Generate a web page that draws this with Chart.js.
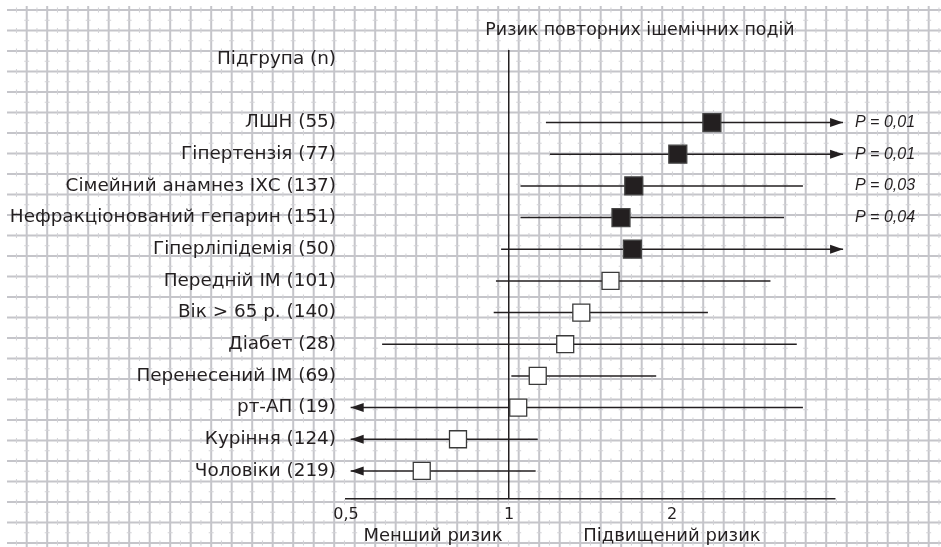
<!DOCTYPE html>
<html>
<head>
<meta charset="utf-8">
<script src="https://cdn.jsdelivr.net/npm/chart.js@4/dist/chart.umd.min.js"></script>
<style>
  html, body { margin: 0; padding: 0; background: #fff; }
  #wrap { width: 941px; height: 547px; }
</style>
</head>
<body>
<div id="wrap"><canvas id="forest" width="941" height="547"></canvas></div>
<script>
// subgroups, top to bottom
const subgroups = [
  'ЛШН (55)', 'Гіпертензія (77)', 'Сімейний анамнез ІХС (137)',
  'Нефракціонований гепарин (151)', 'Гіперліпідемія (50)', 'Передній ІМ (101)',
  'Вік > 65 р. (140)', 'Діабет (28)', 'Перенесений ІМ (69)', 'рт-АП (19)',
  'Куріння (124)', 'Чоловіки (219)'
];
const riskRatio = [2.37, 2.05, 1.70, 1.61, 1.69, 1.54, 1.36, 1.27, 1.13, 1.04, 0.805, 0.69];
const lowerCI   = [1.17, 1.19, 1.05, 1.05, 0.967, 0.946, 0.937, 0.583, 1.01, 0.51, 0.51, 0.51];
const upperCI   = [4.14, 4.14, 3.49, 3.22, 4.14, 3.04, 2.33, 3.40, 1.87, 3.49, 1.13, 1.12];
const significant = [true, true, true, true, true, false, false, false, false, false, false, false];
const arrowLeft  = [false, false, false, false, false, false, false, false, false, true, true, true];
const arrowRight = [true, true, false, false, true, false, false, false, false, false, false, false];
const pLabels = ['P = 0,01', 'P = 0,01', 'P = 0,03', 'P = 0,04', '', '', '', '', '', '', '', ''];
const xTicks = [0.5, 1, 2];
const headerLabel = 'Підгрупа (n)';
const chartTitle = 'Ризик повторних ішемічних подій';
const lowerRiskLabel = 'Менший ризик';
const higherRiskLabel = 'Підвищений ризик';

const INK = '#231f20';
const FONT = '"DejaVu Sans", "Liberation Sans", sans-serif';
const PFONT = '"Liberation Sans", Arial, sans-serif';
Chart.defaults.font.family = FONT;
Chart.defaults.color = INK;

// graph paper behind everything
const paper = {
  id: 'paper',
  beforeDraw( chart ) {
    const c = chart.ctx, W = chart.width, H = chart.height, step = 20.5;
    c.save();
    c.fillStyle = '#fff';
    c.fillRect( 0, 0, W, H );
    c.strokeStyle = '#c5c5ca';
    c.lineWidth = 2;
    c.beginPath();
    for ( let y = 10; y < H; y += step ) { c.moveTo( 7, y ); c.lineTo( W, y ); }
    for ( let x = 26.7; x < W; x += step ) { c.moveTo( x, 6 ); c.lineTo( x, H ); }
    c.stroke();
    // tiny minor marks half way between lines
    c.strokeStyle = '#d2d2d6';
    c.lineWidth = 1;
    c.beginPath();
    for ( let y = 10; y < H; y += step ) {
      for ( let x = 26.7 - step / 2; x < W; x += step ) { c.moveTo( x, y - 2.5 ); c.lineTo( x, y + 2.5 ); }
    }
    for ( let x = 26.7; x < W; x += step ) {
      for ( let y = 10 + step / 2; y < H; y += step ) { c.moveTo( x - 2.5, y ); c.lineTo( x + 2.5, y ); }
    }
    c.stroke();
    c.restore();
  }
};

// arrow heads, p-values and free text
const extras = {
  id: 'extras',
  afterDatasetsDraw( chart ) {
    const c = chart.ctx, xs = chart.scales.x, ys = chart.scales.y, area = chart.chartArea;
    c.save();
    c.fillStyle = INK;
    subgroups.forEach( ( s, i ) => {
      const py = ys.getPixelForValue( i );
      if ( arrowRight[ i ] ) {
        const px = xs.getPixelForValue( upperCI[ i ] );
        c.beginPath(); c.moveTo( px, py ); c.lineTo( px - 13, py - 4.5 ); c.lineTo( px - 13, py + 4.5 ); c.closePath(); c.fill();
      }
      if ( arrowLeft[ i ] ) {
        const px = xs.getPixelForValue( lowerCI[ i ] );
        c.beginPath(); c.moveTo( px, py ); c.lineTo( px + 13, py - 4.5 ); c.lineTo( px + 13, py + 4.5 ); c.closePath(); c.fill();
      }
      if ( pLabels[ i ] ) {
        c.font = 'italic 16px ' + PFONT;
        c.textAlign = 'left';
        c.textBaseline = 'middle';
        c.fillText( pLabels[ i ], area.right + 20, py );
      }
    } );
    c.font = '17.4px ' + FONT;
    c.textAlign = 'center';
    c.textBaseline = 'middle';
    c.fillText( chartTitle, 640, 30 );
    c.font = '18px ' + FONT;
    c.fillText( lowerRiskLabel, xs.getPixelForValue( 0.724 ), 536 );
    c.fillText( higherRiskLabel, xs.getPixelForValue( 2 ), 536 );
    c.restore();
  }
};

const ciSets = subgroups.map( ( s, i ) => ( {
  label: s,
  data: [ { x: lowerCI[ i ], y: i }, { x: upperCI[ i ], y: i } ],
  showLine: true,
  borderColor: INK,
  borderWidth: 1.5,
  pointRadius: 0,
  clip: false,
  order: 2
} ) );

const pointSet = {
  label: 'ratio',
  data: riskRatio.map( ( v, i ) => ( { x: v, y: i } ) ),
  pointStyle: 'rect',
  pointRadius: significant.map( f => f ? 12.7 : 12 ),
  backgroundColor: significant.map( f => f ? INK : '#fff' ),
  borderColor: significant.map( f => f ? '#444' : '#3a3a3a' ),
  borderWidth: 1.3,
  clip: false,
  order: 0
};

new Chart( document.getElementById( 'forest' ), {
  type: 'scatter',
  data: { datasets: ciSets.concat( [ pointSet ] ) },
  options: {
    responsive: false,
    animation: false,
    layout: { padding: { top: 50, bottom: 17, left: 0, right: 106 } },
    plugins: { legend: { display: false }, tooltip: { enabled: false } },
    scales: {
      x: {
        type: 'logarithmic',
        min: 0.5,
        max: 4,
        afterBuildTicks: scale => { scale.ticks = xTicks.map( v => ( { value: v } ) ); },
        ticks: {
          padding: 6,
          font: { size: 16 },
          color: INK,
          callback: v => String( v ).replace( '.', ',' )
        },
        grid: {
          drawTicks: false,
          lineWidth: 1.5,
          color: ctx => ( ctx.tick && ctx.tick.value === 1 ) ? INK : 'rgba(0,0,0,0)'
        },
        border: { display: true, color: INK, width: 1.5 }
      },
      y: {
        type: 'linear',
        reverse: true,
        min: -2.29,
        max: 11.88,
        afterBuildTicks: scale => {
          scale.ticks = [ { value: -2 } ].concat( subgroups.map( ( s, i ) => ( { value: i } ) ) );
        },
        afterFit: scale => { scale.width = 346; },
        ticks: {
          padding: 10,
          font: { size: 18.4 },
          color: INK,
          callback: v => v === -2 ? headerLabel : subgroups[ v ]
        },
        grid: { display: false, drawTicks: false },
        border: { display: false }
      }
    }
  },
  plugins: [ paper, extras ]
} );
</script>
</body>
</html>
